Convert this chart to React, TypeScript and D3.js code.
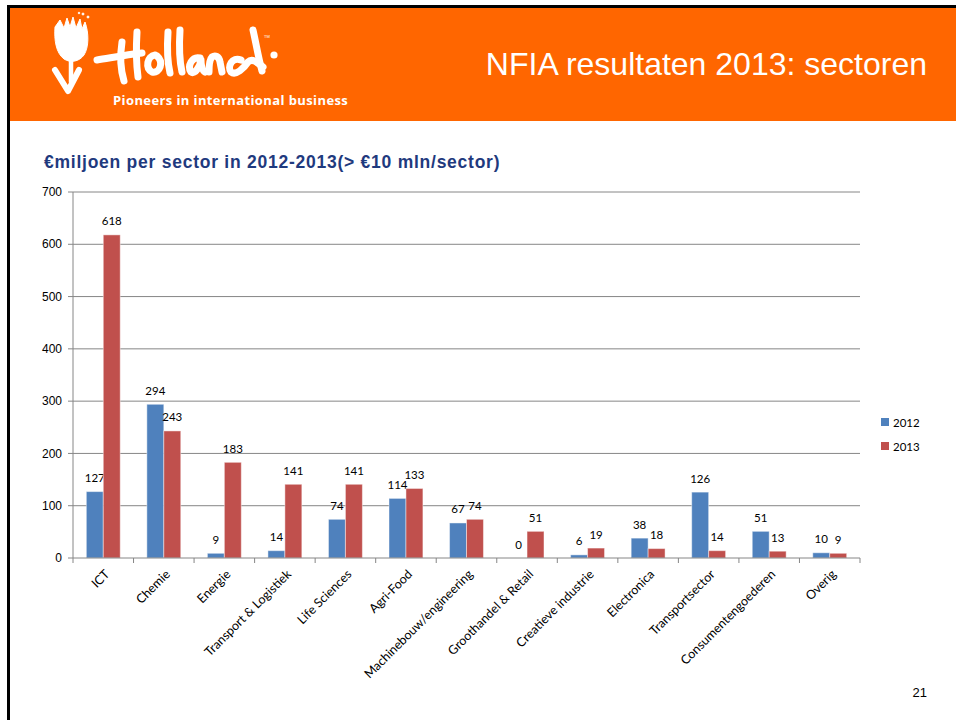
import React from "react";
import * as d3 from "d3";

const categories = [
  "ICT",
  "Chemie",
  "Energie",
  "Transport & Logistiek",
  "Life Sciences",
  "Agri-Food",
  "Machinebouw/engineering",
  "Groothandel & Retail",
  "Creatieve industrie",
  "Electronica",
  "Transportsector",
  "Consumentengoederen",
  "Overig",
];
const values2012 = [127, 294, 9, 14, 74, 114, 67, 0, 6, 38, 126, 51, 10];
const values2013 = [618, 243, 183, 141, 141, 133, 74, 51, 19, 18, 14, 13, 9];
const seriesNames = ["2012", "2013"];
const seriesColors = ["#4F81BD", "#C0504D"];
const yTicks = [0, 100, 200, 300, 400, 500, 600, 700];

const W = 956;
const H = 720;
const plot = { left: 73, right: 860, top: 192, bottom: 558 };

export default function App() {
  const x = d3
    .scaleBand<string>()
    .domain(categories)
    .range([plot.left, plot.right])
    .paddingInner(0)
    .paddingOuter(0);
  const bw = x.bandwidth();
  const xs = d3
    .scaleBand<string>()
    .domain(seriesNames)
    .range([bw * 0.22, bw * 0.78])
    .padding(0);
  const y = d3.scaleLinear().domain([0, 700]).range([plot.bottom, plot.top]);
  const series = [values2012, values2013];
  const gridColor = "#868686";
  const labelFont = "Lato, 'Open Sans', sans-serif";
  const arial = "'Liberation Sans', Arial, sans-serif";

  const boundaries = categories.map((c) => x(c) as number).concat([plot.right]);

  return (
    <svg
      width={W}
      height={H}
      viewBox={`0 0 ${W} ${H}`}
      style={{ position: "absolute", left: 0, top: 0, background: "#fff" }}
    >
      <rect x={0} y={0} width={W} height={H} fill="#fff" />
      {/* header */}
      <rect x={9} y={8} width={W - 9} height={113} fill="#FF6600" />
      <rect x={8} y={5} width={W - 8} height={3} fill="#000" />
      <rect x={7} y={5} width={3} height={H - 5} fill="#000" />

      {/* logo: tulip */}
      <g fill="#fff" stroke="#fff">
        <path
          d="M55,27 C54,40 56,53 64,59 C70,63 79,62 84,55 C89,47 89,33 85,22 L82,29 L80,19 L76,28 L73,17 L70,27 L67,18 L64,28 L60,20 Z"
          strokeWidth={1}
        />
        <path d="M71,59 L71,82" strokeWidth={4.5} fill="none" strokeLinecap="round" />
        <path d="M55,70 L68,91 L79,70" strokeWidth={6} fill="none" strokeLinecap="round" strokeLinejoin="round" />
        <circle cx={83} cy={14} r={1} />
        <circle cx={88} cy={17} r={1} />
        <circle cx={79} cy={13} r={0.8} />
      </g>
      {/* logo: Holland script */}
      <g fill="none" stroke="#fff" strokeWidth={7} strokeLinecap="round" strokeLinejoin="round">
        <path d="M97,60 C110,58 125,55 142,53" />
        <path d="M122,42 C120,55 120,68 124,81" />
        <path d="M137,32 C136,48 136,62 138,77" />
        <path d="M155,55 C147,56 145,68 152,72 C160,74 164,62 157,56" />
        <path d="M168,32 C167,47 167,60 170,73" />
        <path d="M180,30 C179,46 179,59 182,72" />
        <path d="M200,58 C192,56 187,66 191,72 C195,75 200,66 201,60 C201,66 202,70 205,72" />
        <path d="M209,72 C209,64 210,59 212,57 C215,55 219,56 220,62 L222,72" />
        <path d="M241,60 C232,56 227,67 231,72 C236,76 244,68 248,62 C252,58 257,62 263,67" />
        <path d="M253,30 C256,43 258,56 262,71" />
      </g>
      <circle cx={274} cy={55} r={3.6} fill="#fff" />
      <text x={264} y={38} fill="#fff" fontSize={4} fontFamily={arial}>TM</text>
      <text
        x={113}
        y={105}
        fill="#fff"
        fontSize={13}
        fontWeight="bold"
        fontFamily="'Open Sans', 'Noto Sans', sans-serif"
        letterSpacing={0.4}
      >
        Pioneers in international business
      </text>
      <text
        x={927}
        y={75}
        fill="#fff"
        fontSize={32}
        textAnchor="end"
        fontFamily={arial}
      >
        NFIA resultaten 2013: sectoren
      </text>

      {/* subtitle */}
      <text
        x={44}
        y={168}
        fill="#1F3A7E"
        fontSize={17.5}
        fontWeight="bold"
        letterSpacing={0.75}
        fontFamily={arial}
      >
        €miljoen per sector in 2012-2013(&gt; €10 mln/sector)
      </text>

      {/* gridlines and y axis */}
      {yTicks.map((t) => (
        <g key={t}>
          {t > 0 && (
            <line x1={plot.left} x2={plot.right} y1={y(t)} y2={y(t)} stroke={gridColor} strokeWidth={1} />
          )}
          <line x1={plot.left - 5} x2={plot.left} y1={y(t)} y2={y(t)} stroke={gridColor} strokeWidth={1} />
          <text
            x={62}
            y={y(t)}
            dy="0.35em"
            textAnchor="end"
            fontSize={12}
            fontFamily={arial}
            fill="#000"
          >
            {t}
          </text>
        </g>
      ))}
      <line x1={plot.left} x2={plot.left} y1={plot.top} y2={plot.bottom} stroke={gridColor} strokeWidth={1} />

      {/* bars */}
      {series.map((vals, si) =>
        vals.map((v, i) => {
          const bx = (x(categories[i]) as number) + (xs(seriesNames[si]) as number);
          const by = y(v);
          return (
            <g key={`${si}-${i}`}>
              <rect
                x={bx}
                y={by}
                width={xs.bandwidth()}
                height={plot.bottom - by}
                fill={seriesColors[si]}
                stroke="rgba(255,255,255,0.45)"
                strokeWidth={1}
              />
              <text
                x={bx + xs.bandwidth() / 2}
                y={by - 9.5}
                textAnchor="middle"
                fontSize={11.5}
                fontFamily={labelFont}
                fill="#000"
              >
                {v}
              </text>
            </g>
          );
        })
      )}

      {/* x axis */}
      <line x1={plot.left} x2={plot.right} y1={plot.bottom} y2={plot.bottom} stroke={gridColor} strokeWidth={1} />
      {boundaries.map((b, i) => (
        <line key={i} x1={b} x2={b} y1={plot.bottom} y2={plot.bottom + 5} stroke={gridColor} strokeWidth={1} />
      ))}
      {categories.map((c) => {
        const cx = (x(c) as number) + bw / 2;
        return (
          <text
            key={c}
            transform={`translate(${cx + 7},${plot.bottom + 17}) rotate(-45)`}
            textAnchor="end"
            fontSize={12.5}
            fontFamily={labelFont}
            fill="#000"
          >
            {c}
          </text>
        );
      })}

      {/* legend */}
      {seriesNames.map((s, i) => (
        <g key={s}>
          <rect x={881} y={418 + i * 24} width={8} height={8} fill={seriesColors[i]} />
          <text x={893} y={427 + i * 24} fontSize={11.5} fontFamily={labelFont} fill="#000">
            {s}
          </text>
        </g>
      ))}

      {/* page number */}
      <text x={927} y={697} textAnchor="end" fontSize={13} fontFamily={arial} fill="#000">
        21
      </text>
    </svg>
  );
}
